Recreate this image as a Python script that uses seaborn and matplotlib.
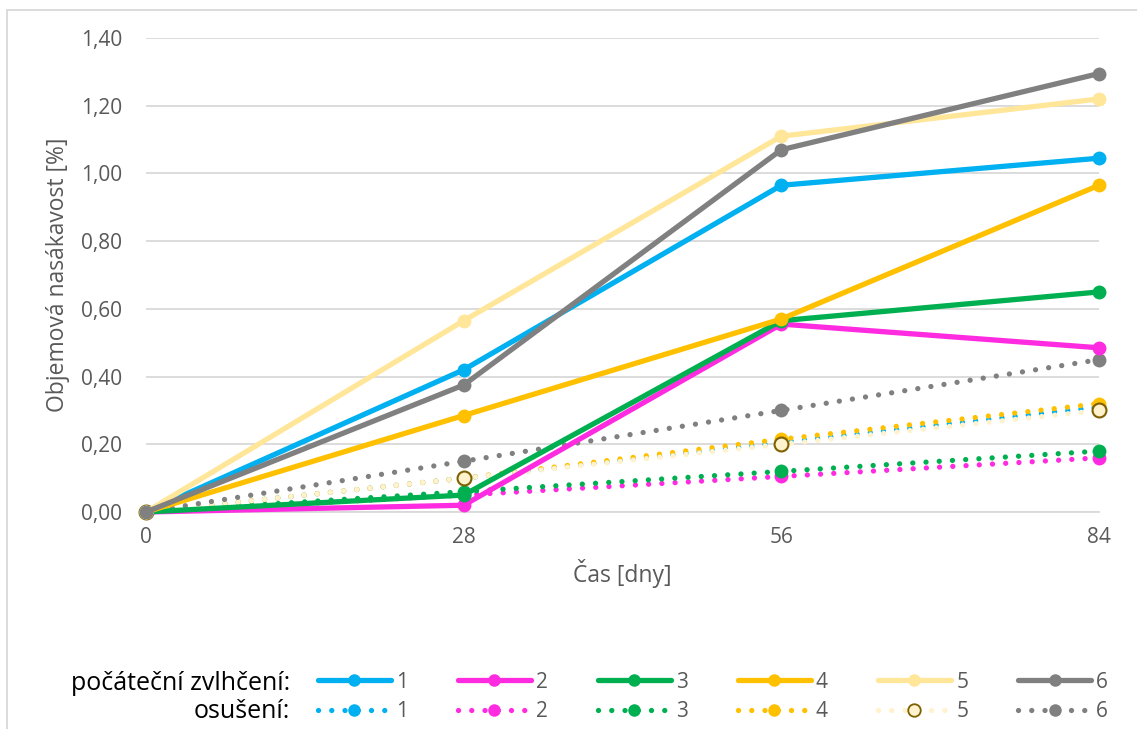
import matplotlib
matplotlib.use("Agg")
import matplotlib.pyplot as plt
import seaborn as sns
import pandas as pd
from matplotlib.lines import Line2D
from matplotlib.patches import Rectangle
from matplotlib.ticker import FuncFormatter

days = [0, 28, 56, 84]
series_names = ["1", "2", "3", "4", "5", "6"]

# počáteční zvlhčení (solid)
init_1 = [0.00, 0.42, 0.965, 1.045]
init_2 = [0.00, 0.02, 0.555, 0.485]
init_3 = [0.00, 0.05, 0.565, 0.65]
init_4 = [0.00, 0.285, 0.57, 0.965]
init_5 = [0.00, 0.565, 1.11, 1.22]
init_6 = [0.00, 0.375, 1.07, 1.295]

# osušení (dotted)
dry_1 = [0.00, 0.10, 0.205, 0.31]
dry_2 = [0.00, 0.05, 0.105, 0.16]
dry_3 = [0.00, 0.06, 0.12, 0.18]
dry_4 = [0.00, 0.10, 0.215, 0.32]
dry_5 = [0.00, 0.10, 0.20, 0.30]
dry_6 = [0.00, 0.15, 0.30, 0.45]

yticks = [0.0, 0.2, 0.4, 0.6, 0.8, 1.0, 1.2, 1.4]

colors = ["#00B0F0", "#FF2BE0", "#00B050", "#FFC000", "#FFE699", "#808080"]
dry_colors = ["#00B0F0", "#FF2BE0", "#00B050", "#FFC000", "#FFF2CC", "#808080"]

init_vals = [init_1, init_2, init_3, init_4, init_5, init_6]
dry_vals = [dry_1, dry_2, dry_3, dry_4, dry_5, dry_6]

rows = []
for name, vals in zip(series_names, init_vals):
    for d, v in zip(days, vals):
        rows.append({"den": d, "hodnota": v, "serie": name, "typ": "init"})
for name, vals in zip(series_names, dry_vals):
    for d, v in zip(days, vals):
        rows.append({"den": d, "hodnota": v, "serie": name, "typ": "dry"})
df = pd.DataFrame(rows)

sns.set_theme(style="white")
plt.rcParams["font.family"] = ["Open Sans", "DejaVu Sans"]

fig = plt.figure(figsize=(11.37, 7.29), dpi=100)
ax = fig.add_axes([146/1137, (729-512)/729, (1099-146)/1137, (512-38)/729])

dot_style = (0, (0.01, 2.5))

# dotted first (drawn below solid)
for i, name in enumerate(series_names):
    sub = df[(df.typ == "dry") & (df.serie == name)]
    mfc = dry_colors[i]
    mec = dry_colors[i]
    mew = 0
    if name == "5":
        mfc = "#FFF2CC"
        mec = "#7F6000"
        mew = 1.5
    sns.lineplot(data=sub, x="den", y="hodnota", ax=ax, color=dry_colors[i],
                 linewidth=3.8, linestyle=dot_style, dash_capstyle="round",
                 marker="o", markersize=10, markerfacecolor=mfc,
                 markeredgecolor=mec, markeredgewidth=mew,
                 legend=False, clip_on=False, zorder=3, errorbar=None)

for i, name in enumerate(series_names):
    sub = df[(df.typ == "init") & (df.serie == name)]
    sns.lineplot(data=sub, x="den", y="hodnota", ax=ax, color=colors[i],
                 linewidth=3.8, marker="o", markersize=10,
                 markerfacecolor=colors[i], markeredgecolor=colors[i],
                 markeredgewidth=0, legend=False, clip_on=False, zorder=4,
                 errorbar=None)

ax.set_xlim(0, 84)
ax.set_ylim(0, 1.4)
ax.set_xticks(days)
ax.set_yticks(yticks)
ax.yaxis.set_major_formatter(FuncFormatter(lambda v, p: f"{v:.2f}".replace(".", ",")))
ax.grid(axis="y", color="#D9D9D9", linewidth=1.3)
ax.grid(axis="x", visible=False)
for s in ["top", "right", "left"]:
    ax.spines[s].set_visible(False)
ax.spines["bottom"].set_color("#D9D9D9")
ax.spines["bottom"].set_linewidth(1.3)
ax.tick_params(axis="both", length=0, labelsize=15, colors="#595959")
ax.tick_params(axis="x", pad=11)
ax.tick_params(axis="y", pad=17)
ax.set_xlabel("Čas [dny]", fontsize=16.5, color="#595959", labelpad=8)
ax.set_ylabel("Objemová nasákavost [%]", fontsize=16.5, color="#595959", labelpad=8)

# legend
handles = []
labels = []
for i, name in enumerate(series_names):
    handles.append(Line2D([], [], color=colors[i], linewidth=3.8, marker="o",
                          markersize=9, markeredgewidth=0))
    labels.append(name)
    mfc = dry_colors[i]
    mec = dry_colors[i]
    mew = 0
    if name == "5":
        mfc = "#FFF2CC"
        mec = "#7F6000"
        mew = 1.3
    handles.append(Line2D([], [], color=dry_colors[i], linewidth=3.8,
                          linestyle=dot_style, dash_capstyle="round",
                          marker="o", markersize=9, markerfacecolor=mfc,
                          markeredgecolor=mec, markeredgewidth=mew))
    labels.append(name)

leg = fig.legend(handles, labels, ncol=6, loc="center left",
                 bbox_to_anchor=(299/1137, (729-697)/729), frameon=False,
                 fontsize=15, handlelength=3.5, handletextpad=0.25,
                 columnspacing=2.4, labelspacing=0.42, labelcolor="#595959")

fig.text(290/1137, (729-683)/729, "počáteční zvlhčení:", ha="right", va="center",
         fontsize=18, color="#000000")
fig.text(290/1137, (729-711)/729, "osušení:", ha="right", va="center",
         fontsize=18, color="#000000")

# chart border
fig.patches.append(Rectangle((7/1137, -0.1), 1.2, (729-10)/729 + 0.1,
                             transform=fig.transFigure, fill=False,
                             edgecolor="#D9D9D9", linewidth=1.3))

fig.savefig("out.png", dpi=100, facecolor="white")
